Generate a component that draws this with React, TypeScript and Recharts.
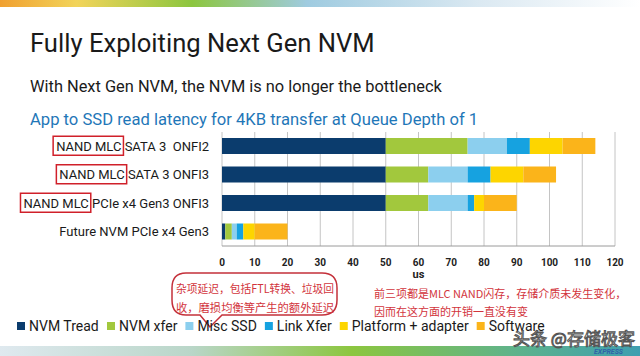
import { Bar, BarChart, CartesianGrid, XAxis, YAxis } from "recharts";

const categories = [
  "NAND MLC SATA 3  ONFI2",
  "NAND MLC SATA 3 ONFI3",
  "NAND MLC PCIe x4 Gen3 ONFI3",
  "Future NVM PCIe x4 Gen3",
];
const nvmTread = [50, 50, 50, 1];
const nvmXfer = [25, 13, 13, 2];
const miscSsd = [12, 12, 12, 1.5];
const linkXfer = [7, 7, 2, 2];
const platformAdapter = [10, 10, 3, 3.5];
const software = [10, 10, 10, 10];
const xTicks = [0, 10, 20, 30, 40, 50, 60, 70, 80, 90, 100, 110, 120];

const SERIES = [
  { key: "tread", name: "NVM Tread", color: "#0b3c6d", values: nvmTread },
  { key: "xfer", name: "NVM xfer", color: "#a2c83d", values: nvmXfer },
  { key: "misc", name: "Misc SSD", color: "#8ccfee", values: miscSsd },
  { key: "link", name: "Link Xfer", color: "#16a2e0", values: linkXfer },
  { key: "platform", name: "Platform + adapter", color: "#fdd500", values: platformAdapter },
  { key: "software", name: "Software", color: "#fbb41a", values: software },
];

const TITLE = "Fully Exploiting Next Gen NVM";
const SUBTITLE = "With Next Gen NVM, the NVM is no longer the bottleneck";
const CAPTION = "App to SSD read latency for 4KB transfer at Queue Depth of 1";
const NOTE_MISC = ["杂项延迟，包括FTL转换、垃圾回", "收，磨损均衡等产生的额外延迟"];
const NOTE_NAND = ["前三项都是MLC NAND闪存，存储介质未发生变化，", "因而在这方面的开销一直没有变"];
const HIGHLIGHT = "NAND MLC";

const FONT = 'Roboto, "Open Sans", sans-serif';
const CJK = '"Noto Sans CJK SC", sans-serif';
const RED = "#d2343c";

const data = categories.map((name, i) => {
  const row: Record<string, string | number> = { name };
  SERIES.forEach((s) => (row[s.key] = s.values[i]));
  return row;
});

let ctx: CanvasRenderingContext2D | null = null;
function textWidth(s: string, font: string) {
  if (!ctx) ctx = document.createElement("canvas").getContext("2d");
  if (!ctx) return s.length * 7;
  ctx.font = font;
  return ctx.measureText(s).width;
}

function CategoryTick(props: any) {
  const { x, y, payload } = props;
  const label: string = payload.value;
  const font = `13px ${FONT}`;
  let box = null;
  if (label.startsWith(HIGHLIGHT)) {
    const restW = textWidth(label.slice(HIGHLIGHT.length), font);
    const hlW = textWidth(HIGHLIGHT, font);
    const right = x - restW + 2;
    const left = right - hlW - 5;
    box = (
      <rect x={left} y={y - 10} width={right - left} height={19} fill="none" stroke="#d0202a" strokeWidth={1.5} />
    );
  }
  return (
    <g>
      {box}
      <text
        x={x}
        y={y}
        dy="0.36em"
        textAnchor="end"
        fontSize={13}
        fontFamily={FONT}
        fill="#1a1a1a"
        style={{ whiteSpace: "pre" }}
      >
        {label}
      </text>
    </g>
  );
}

function Legend() {
  const font = `14px ${FONT}`;
  let cursor = 17;
  const items = SERIES.map((s) => {
    const x = cursor;
    cursor += 12 + textWidth(s.name, font) + 8;
    return (
      <g key={s.key}>
        <rect x={x} y={322} width={8} height={8} fill={s.color} />
        <text x={x + 12} y={331} fontSize={14} fontFamily={FONT} fill="#1a1a1a">
          {s.name}
        </text>
      </g>
    );
  });
  return <g>{items}</g>;
}

function Overlay() {
  return (
    <svg
      width={640}
      height={356}
      style={{ position: "absolute", left: 0, top: 0, pointerEvents: "none" }}
    >
      <defs>
        <linearGradient id="topStripe" x1="0" x2="1" y1="0" y2="0">
          <stop offset="0" stopColor="#f0a030" />
          <stop offset="0.12" stopColor="#f2d45a" />
          <stop offset="0.3" stopColor="#8cc63f" />
          <stop offset="0.48" stopColor="#9fcbe0" />
          <stop offset="0.75" stopColor="#dbe9f2" />
          <stop offset="1" stopColor="#ffffff" />
        </linearGradient>
        <linearGradient id="bottomStripe" x1="0" x2="1" y1="0" y2="0">
          <stop offset="0" stopColor="#dfe9ef" />
          <stop offset="0.3" stopColor="#b9d6c8" />
          <stop offset="0.55" stopColor="#8cc63f" />
          <stop offset="0.8" stopColor="#5fb38a" />
          <stop offset="1" stopColor="#3e9fb0" />
        </linearGradient>
      </defs>
      <rect x={0} y={0} width={640} height={7} fill="url(#topStripe)" />
      <rect x={0} y={346} width={640} height={10} fill="url(#bottomStripe)" />

      <text x={30} y={52} fontSize={25.6} fontFamily={FONT} fill="#1a1a1a">
        {TITLE}
      </text>
      <text x={30} y={92} fontSize={16.4} fontFamily={FONT} fill="#1a1a1a">
        {SUBTITLE}
      </text>
      <text x={30} y={125} fontSize={16.6} fontFamily={FONT} fill="#1f77b8">
        {CAPTION}
      </text>

      <path
        d="M186 273 H322 Q337 273 337 288 V300 Q337 315 322 315 H222 L210 327 L200 315 H186 Q172 315 172 300 V288 Q172 273 186 273 Z"
        fill="none"
        stroke="#c4303a"
        strokeWidth={1.5}
      />
      {NOTE_MISC.map((line, i) => (
        <text
          key={i}
          x={176}
          y={293 + i * 19}
          fontSize={11.2}
          fontFamily={CJK}
          fill={RED}
          textLength={158}
          lengthAdjust="spacingAndGlyphs"
        >
          {line}
        </text>
      ))}
      {NOTE_NAND.map((line, i) => (
        <text key={i} x={374} y={298 + i * 18} fontSize={11} fontFamily={CJK} fill={RED}>
          {line}
        </text>
      ))}

      <Legend />

      <text x={513} y={345} fontSize={17} fontFamily={CJK} fill="#fff" stroke="#555" strokeWidth={1}>
        头条 @存储极客
      </text>
      <text x={594} y={354} fontSize={7} fontStyle="italic" fontWeight="bold" fontFamily={FONT} fill="#2f63a8">
        EXPRESS
      </text>
    </svg>
  );
}

export default function App() {
  return (
    <div style={{ position: "absolute", left: 0, top: 0, width: 640, height: 356, background: "#fff" }}>
      <BarChart
        width={640}
        height={356}
        data={data}
        layout="vertical"
        barSize={16}
        margin={{ top: 132, right: 25, bottom: 80, left: 0 }}
      >
        <CartesianGrid horizontal={false} stroke="#c4c4c4" />
        <XAxis
          type="number"
          domain={[0, 120]}
          ticks={xTicks}
          interval={0}
          height={30}
          tickLine={false}
          tickMargin={7}
          axisLine={{ stroke: "#9a9a9a" }}
          tick={{ fontSize: 10, fontWeight: "bold", fill: "#222", fontFamily: FONT }}
          label={{
            value: "us",
            position: "insideBottom",
            offset: -2,
            fontSize: 11,
            fontWeight: "bold",
            fill: "#222",
            fontFamily: FONT,
          }}
        />
        <YAxis
          type="category"
          dataKey="name"
          width={222}
          tickLine={false}
          axisLine={false}
          tickSize={0}
          tickMargin={13}
          interval={0}
          tick={<CategoryTick />}
        />
        {SERIES.map((s) => (
          <Bar
            key={s.key}
            dataKey={s.key}
            name={s.name}
            stackId="latency"
            fill={s.color}
            isAnimationActive={false}
          />
        ))}
      </BarChart>
      <Overlay />
    </div>
  );
}
